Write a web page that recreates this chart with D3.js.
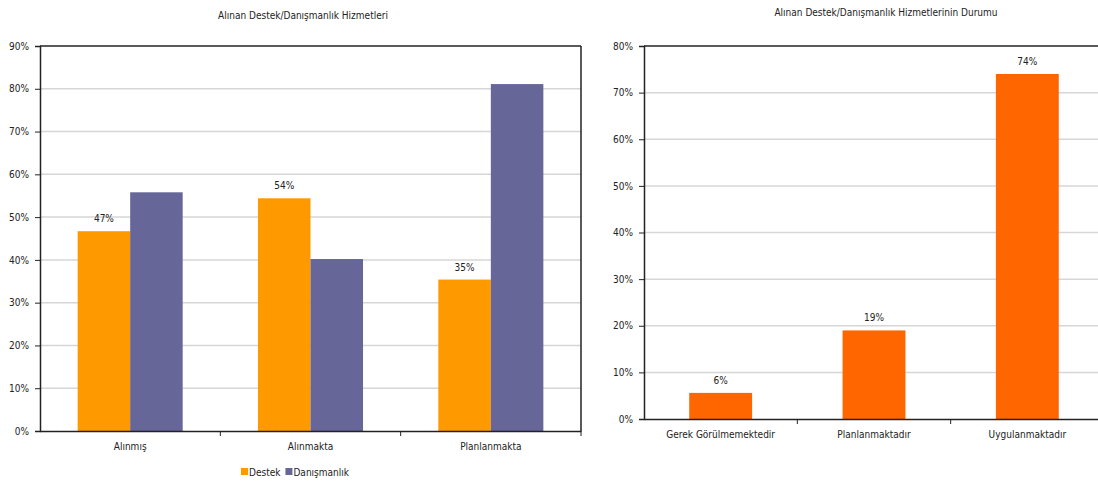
<!DOCTYPE html>
<html>
<head>
<meta charset="utf-8">
<script src="https://cdn.jsdelivr.net/npm/d3@7"></script>
<style>
  html, body { margin: 0; padding: 0; background: #fff; }
  svg text { font-family: "DejaVu Sans Condensed", "DejaVu Sans", Verdana, sans-serif; font-stretch: condensed; fill: #222; }
</style>
</head>
<body>
<svg id="chart" width="1098" height="483"></svg>
<script>
// Left chart: services received, by status and type
const leftTitle = "Alınan Destek/Danışmanlık Hizmetleri";
const leftCategories = ["Alınmış", "Alınmakta", "Planlanmakta"];
const leftSeries = ["Destek", "Danışmanlık"];
const destekValues = [0.467, 0.544, 0.354];
const danismanlikValues = [0.558, 0.402, 0.811];
const leftTicks = [0, 0.1, 0.2, 0.3, 0.4, 0.5, 0.6, 0.7, 0.8, 0.9];

// Right chart: state of the services
const rightTitle = "Alınan Destek/Danışmanlık Hizmetlerinin Durumu";
const rightCategories = ["Gerek Görülmemektedir", "Planlanmaktadır", "Uygulanmaktadır"];
const rightValues = [0.056, 0.19, 0.74];
const rightTicks = [0, 0.1, 0.2, 0.3, 0.4, 0.5, 0.6, 0.7, 0.8];

const colors = { "Destek": "#FF9900", "Danışmanlık": "#666699" };
const rightColor = "#FF6600";
const pct = d3.format(".0%");
const FONT = "\"DejaVu Sans Condensed\", \"DejaVu Sans\", Verdana, sans-serif";

const svg = d3.select("#chart");

function frame(g, x0, x1, y0, y1, ticks, y, rightBorder) {
  // horizontal gridlines
  g.append("g").selectAll("line")
    .data(ticks.slice(1, -1))
    .join("line")
    .attr("x1", x0).attr("x2", x1)
    .attr("y1", d => y(d)).attr("y2", d => y(d))
    .attr("stroke", "#d6d6d6").attr("stroke-width", 1.5);
  // top border
  g.append("line")
    .attr("x1", x0).attr("x2", x1)
    .attr("y1", y1).attr("y2", y1)
    .attr("stroke", "#222").attr("stroke-width", 1.5);
  if (rightBorder) {
    g.append("line")
      .attr("x1", x1).attr("x2", x1)
      .attr("y1", y1).attr("y2", y0)
      .attr("stroke", "#222").attr("stroke-width", 1.5);
  }
}

function styleAxis(a) {
  a.select(".domain").attr("stroke", "#222").attr("stroke-width", 1.5);
  a.selectAll(".tick line").attr("stroke", "#222").attr("stroke-width", 1);
  a.selectAll("text").attr("font-size", "10px").attr("fill", "#222")
    .style("font-family", FONT).style("font-stretch", "condensed");
}

// ---------- left chart ----------
{
  const L = 40, R = 581, T = 46, B = 431;
  const g = svg.append("g");
  const y = d3.scaleLinear().domain([0, 0.9]).range([B, T]);
  const x0 = d3.scaleBand().domain(leftCategories).range([L, R]).padding(0);
  const x1 = d3.scaleBand().domain(leftSeries).range([0, x0.bandwidth()])
    .paddingInner(0).paddingOuter(0.717);

  frame(g, L, R, B, T, leftTicks, y, true);

  const rows = leftCategories.map((c, i) => ({
    cat: c,
    vals: [
      { key: "Destek", v: destekValues[i] },
      { key: "Danışmanlık", v: danismanlikValues[i] }
    ]
  }));

  const grp = g.append("g").selectAll("g").data(rows).join("g")
    .attr("transform", d => `translate(${x0(d.cat)},0)`);
  grp.selectAll("rect").data(d => d.vals).join("rect")
    .attr("x", d => x1(d.key))
    .attr("width", x1.bandwidth())
    .attr("y", d => y(d.v))
    .attr("height", d => B - y(d.v))
    .attr("fill", d => colors[d.key]);
  // value labels on the Destek series
  grp.selectAll("text.val").data(d => d.vals.filter(v => v.key === "Destek")).join("text")
    .attr("class", "val")
    .attr("x", d => x1(d.key) + x1.bandwidth() / 2)
    .attr("y", d => y(d.v) - 9)
    .attr("text-anchor", "middle")
    .attr("font-size", "10px")
    .text(d => pct(d.v));

  const ya = g.append("g").attr("transform", `translate(${L},0)`)
    .call(d3.axisLeft(y).tickValues(leftTicks).tickFormat(pct).tickSize(5).tickPadding(6));
  styleAxis(ya);
  const xa = g.append("g").attr("transform", `translate(0,${B})`)
    .call(d3.axisBottom(x0).tickSize(0).tickPadding(12));
  styleAxis(xa);
  // category separators on the x axis
  g.append("g").selectAll("line")
    .data(leftCategories.slice(1).map(c => x0(c)).concat([R]))
    .join("line")
    .attr("x1", d => d).attr("x2", d => d)
    .attr("y1", B).attr("y2", B + 5)
    .attr("stroke", "#222");

  g.append("text")
    .attr("x", 303).attr("y", 19)
    .attr("text-anchor", "middle")
    .attr("font-size", "10px")
    .text(leftTitle);

  // legend
  const lg = g.append("g").attr("transform", "translate(241,468)");
  let lx = 0;
  leftSeries.forEach(s => {
    lg.append("rect").attr("x", lx).attr("y", 0).attr("width", 7).attr("height", 7)
      .attr("fill", colors[s]);
    const t = lg.append("text").attr("x", lx + 8).attr("y", 7.5)
      .attr("font-size", "10px").text(s);
    lx += 8 + t.node().getComputedTextLength() + 5;
  });
}

// ---------- right chart ----------
{
  const L = 644, R = 1104, T = 46, B = 419;
  const g = svg.append("g");
  const y = d3.scaleLinear().domain([0, 0.8]).range([B, T]);
  const x = d3.scaleBand().domain(rightCategories).range([L, R])
    .paddingInner(0.59).paddingOuter(0.295);

  frame(g, L, R, B, T, rightTicks, y, false);

  g.append("g").selectAll("rect")
    .data(rightCategories.map((c, i) => ({ c, v: rightValues[i] })))
    .join("rect")
    .attr("x", d => x(d.c))
    .attr("width", x.bandwidth())
    .attr("y", d => y(d.v))
    .attr("height", d => B - y(d.v))
    .attr("fill", rightColor);

  g.append("g").selectAll("text")
    .data(rightCategories.map((c, i) => ({ c, v: rightValues[i] })))
    .join("text")
    .attr("x", d => x(d.c) + x.bandwidth() / 2)
    .attr("y", d => y(d.v) - 9)
    .attr("text-anchor", "middle")
    .attr("font-size", "10px")
    .text(d => pct(d.v));

  const ya = g.append("g").attr("transform", `translate(${L},0)`)
    .call(d3.axisLeft(y).tickValues(rightTicks).tickFormat(pct).tickSize(5).tickPadding(6));
  styleAxis(ya);
  const xa = g.append("g").attr("transform", `translate(0,${B})`)
    .call(d3.axisBottom(x).tickSize(0).tickPadding(12));
  styleAxis(xa);
  const step = x.step();
  g.append("g").selectAll("line")
    .data([L + step, L + 2 * step])
    .join("line")
    .attr("x1", d => d).attr("x2", d => d)
    .attr("y1", B).attr("y2", B + 5)
    .attr("stroke", "#222");

  g.append("text")
    .attr("x", 886).attr("y", 16)
    .attr("text-anchor", "middle")
    .attr("font-size", "10px")
    .text(rightTitle);
}
</script>
</body>
</html>
